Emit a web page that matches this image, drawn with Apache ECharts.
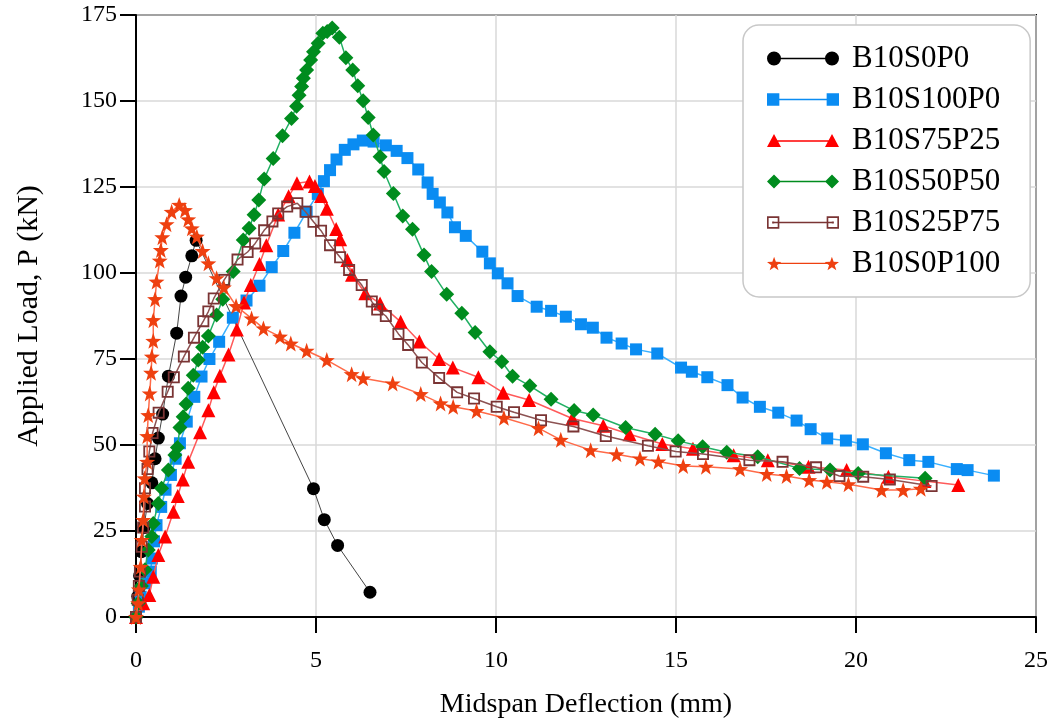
<!DOCTYPE html>
<html>
<head>
<meta charset="utf-8">
<title>Load-deflection</title>
<script src="https://cdn.jsdelivr.net/npm/echarts@6/dist/echarts.min.js"></script>
<style>
  html, body { margin: 0; padding: 0; background: #fff; }
  #chart { width: 1062px; height: 722px; }
</style>
</head>
<body>
<div id="chart"></div>
<script>
// series names (legend order)
var seriesNames = ['B10S0P0', 'B10S100P0', 'B10S75P25', 'B10S50P50', 'B10S25P75', 'B10S0P100'];

// [midspan deflection (mm), applied load (kN)]
var b10s0p0 = [[0,0],[0.05,6],[0.1,12],[0.15,19],[0.22,26],[0.32,33],[0.44,39],[0.53,46],[0.62,52],[0.74,59],
  [0.9,70],[1.13,82.5],[1.25,93.3],[1.38,98.8],[1.55,105],[1.67,109.5],[4.93,37.3],[5.23,28.3],[5.6,20.8],[6.5,7.2]];

var b10s100p0 = [[0,0],[0.08,3],[0.13,5.9],[0.25,9.8],[0.41,13.2],[0.44,17],[0.5,22],[0.57,26.7],[0.7,32],[0.82,37],
  [0.97,41.3],[1.1,46],[1.22,50.5],[1.41,56.8],[1.62,64],[1.82,69.9],[2.04,75],[2.31,80],[2.69,87],[3.07,92],
  [3.43,96.3],[3.77,101.7],[4.09,106.4],[4.4,111.7],[4.74,117.8],[5.05,123],[5.22,126.7],[5.39,129.9],[5.57,133],[5.8,135.8],
  [6.04,137.4],[6.3,138.5],[6.6,138.2],[6.94,137.1],[7.24,135.5],[7.54,133.4],[7.84,130.1],[8.1,126.3],[8.24,123],[8.44,120.5],
  [8.65,117.6],[8.86,113.3],[9.16,110.8],[9.62,106.2],[9.83,102.8],[10.05,99.9],[10.32,97],[10.6,93.3],[11.13,90.2],[11.53,89],
  [11.94,87.3],[12.36,85.1],[12.69,84.1],[13.07,81.2],[13.49,79.5],[13.89,77.8],[14.48,76.6],[15.14,72.5],[15.44,71.3],[15.87,69.7],
  [16.43,67.4],[16.85,63.8],[17.33,61.1],[17.84,59.4],[18.35,57.1],[18.74,54.6],[19.2,51.9],[19.72,51.3],[20.19,50.2],[20.83,47.6],
  [21.48,45.6],[22.01,45.1],[22.8,43],[23.1,42.7],[23.83,41.1]];

var b10s75p25 = [[0,0],[0.2,4],[0.37,6.4],[0.48,11.7],[0.62,18],[0.81,23.4],[1.04,30.6],[1.16,35.2],[1.3,40],[1.45,45.1],
  [1.78,53.7],[2.01,60.1],[2.16,65.3],[2.33,70.1],[2.57,76.3],[2.8,83.6],[3.0,91.4],[3.19,96.5],[3.43,102.6],[3.62,108.1],
  [3.95,117],[4.24,122.3],[4.47,126.1],[4.82,126.6],[4.97,125.3],[5.14,122.4],[5.3,118.7],[5.56,112.8],[5.67,109.8],[5.87,103.8],
  [6.0,99.5],[6.37,94.1],[6.78,91.1],[7.35,85.8],[7.87,80.1],[8.42,75],[8.8,72.5],[9.51,69.7],[10.2,65.2],[10.92,63.1],
  [12.12,57.7],[12.98,55.6],[13.71,53.1],[14.62,50.3],[15.47,48.9],[16.6,47],[17.55,45.6],[18.68,43.7],[19.74,42.7],[20.9,40.8],
  [21.9,39.5],[22.84,38.4]];

var b10s50p50 = [[0,0],[0.06,4],[0.15,9],[0.25,13.7],[0.34,19.5],[0.44,23.4],[0.48,27.2],[0.62,33],[0.71,37.4],[0.9,42.7],
  [1.08,47.1],[1.15,49.3],[1.22,55.1],[1.31,58.2],[1.39,61.9],[1.45,66.5],[1.59,70.3],[1.73,74.7],[1.85,78.4],[2.01,81.7],
  [2.24,87.8],[2.41,92.4],[2.7,100.4],[2.98,109.6],[3.14,113],[3.28,116.9],[3.41,121.2],[3.56,127.3],[3.81,133.3],[4.07,139.9],
  [4.32,144.9],[4.46,148.5],[4.53,151.7],[4.6,154.2],[4.65,156.6],[4.74,159],[4.85,161.9],[4.93,164.3],[5.06,166.8],[5.19,169.7],
  [5.31,170.2],[5.45,171.2],[5.65,168.5],[5.83,162.6],[6.02,159],[6.16,154.4],[6.31,150.1],[6.45,145.2],[6.59,140.1],[6.78,133.8],
  [6.89,129.5],[7.15,123.1],[7.41,116.6],[7.68,112.7],[8.0,105.2],[8.21,100.4],[8.63,93.8],[9.05,88.3],[9.42,82.7],[9.83,77.1],
  [10.16,74.2],[10.46,70],[10.94,67.2],[11.53,63.3],[12.17,60],[12.7,58.7],[13.6,55.1],[14.42,53.1],[15.06,51.2],[15.74,49.5],
  [16.41,47.9],[17.27,46.6],[18.43,43.2],[19.28,42.7],[20.06,41.7],[21.92,40.3]];

var b10s25p75 = [[0,0],[0.05,5],[0.08,9],[0.11,13.2],[0.16,20.4],[0.2,26],[0.25,32.1],[0.25,37.4],[0.32,43],[0.37,48.1],
  [0.46,53.5],[0.63,59.4],[0.88,65.5],[1.05,69.7],[1.33,75.7],[1.61,81.2],[1.87,86],[2.01,88.8],[2.16,92.6],[2.45,98],
  [2.82,103.9],[3.1,106.1],[3.31,108.6],[3.56,112.4],[3.79,115],[3.95,117.3],[4.2,119.3],[4.48,120.3],[4.71,117.8],[4.93,114.9],
  [5.14,112.3],[5.39,108.1],[5.67,104.6],[5.92,100.9],[6.27,96.5],[6.55,91.7],[6.7,89.4],[6.94,87.5],[7.29,82.3],[7.56,79.1],
  [7.94,74],[8.42,69.5],[8.92,65.3],[9.39,63.5],[10.02,61.1],[10.5,59.5],[11.25,57.2],[12.15,55.4],[13.05,52.6],[14.22,49.8],
  [14.99,48.1],[15.75,47.4],[17.04,45.6],[17.96,45.1],[18.89,43.5],[19.54,41],[20.2,40.8],[20.94,40],[22.1,38.1]];

var b10s0p100 = [[0,0],[0.06,4],[0.08,8],[0.13,14.6],[0.16,22.4],[0.2,28.2],[0.22,35],[0.24,40.3],[0.31,45.1],[0.31,52.6],
  [0.34,58.7],[0.38,65],[0.42,71],[0.44,75.7],[0.48,80.3],[0.48,86.3],[0.53,92.4],[0.57,97.5],[0.66,103.6],[0.69,106.7],
  [0.73,110.4],[0.85,114.2],[0.99,117.8],[1.2,119.8],[1.36,118.3],[1.45,115.6],[1.55,113],[1.69,110.6],[1.85,106.4],[2.01,102.8],
  [2.24,98.5],[2.44,95.8],[2.78,90.4],[3.21,86.8],[3.54,83.9],[4.0,81.5],[4.3,79.5],[4.74,77.4],[5.3,74.7],[5.99,70.6],
  [6.31,69.4],[7.13,67.9],[7.91,64.8],[8.46,62.1],[8.81,61.1],[9.46,59.9],[10.22,57.9],[11.18,54.9],[11.8,51.5],[12.63,48.5],
  [13.35,47.3],[14.0,46.1],[14.51,45.2],[15.2,43.9],[15.83,43.7],[16.78,43],[17.52,41.6],[18.07,41],[18.7,39.8],[19.19,39.3],
  [19.79,38.6],[20.71,36.9],[21.31,36.9],[21.8,37.3]];

// axis ranges
var xMax = 25, xStep = 5;
var yMax = 175, yStep = 25;

var serif = 'Liberation Serif';

// marker shapes
function starPath(cx, cy, R, r) {
  var s = '';
  for (var k = 0; k < 10; k++) {
    var a = -Math.PI / 2 + k * Math.PI / 5;
    var rad = k % 2 ? r : R;
    s += (k ? 'L' : 'M') + (cx + rad * Math.cos(a)).toFixed(2) + ' ' + (cy + rad * Math.sin(a)).toFixed(2);
  }
  return s + 'Z';
}
function ringPath(cx, cy, h, t) {
  // outer square clockwise, inner square the other way -> hole
  return 'M' + (cx - h) + ' ' + (cy - h) + 'H' + (cx + h) + 'V' + (cy + h) + 'H' + (cx - h) + 'Z' +
    'M' + (cx - h + t) + ' ' + (cy - h + t) + 'V' + (cy + h - t) + 'H' + (cx + h - t) + 'V' + (cy - h + t) + 'Z';
}
var starSymbol = 'path://' + starPath(10, 10, 10, 4);
var ringSymbol = 'path://' + ringPath(6, 6, 6, 1.8);

// legend icons: marker - line - marker, in a 72 x 14 box
function legendIcon(kind) {
  var p = 'M7 6.3H65V7.7H7Z';
  [7, 65].forEach(function (cx) {
    if (kind === 'circle') p += 'M' + (cx - 7) + ' 7A7 7 0 1 1 ' + (cx + 7) + ' 7A7 7 0 1 1 ' + (cx - 7) + ' 7Z';
    else if (kind === 'rect') p += 'M' + (cx - 6) + ' 1H' + (cx + 6) + 'V13H' + (cx - 6) + 'Z';
    else if (kind === 'triangle') p += 'M' + cx + ' 0L' + (cx + 7) + ' 13H' + (cx - 7) + 'Z';
    else if (kind === 'diamond') p += 'M' + cx + ' 0L' + (cx + 7) + ' 7L' + cx + ' 14L' + (cx - 7) + ' 7Z';
    else if (kind === 'ring') p += ringPath(cx, 7, 6, 1.6) + 'M' + (cx - 1) + ' 6H' + (cx + 1) + 'V8H' + (cx - 1) + 'Z';
    else if (kind === 'star') p += starPath(cx, 7.8, 7.5, 3);
  });
  return 'path://' + p;
}

var styles = [
  { data: b10s0p0,   symbol: 'circle',   size: 13, color: '#000000', line: '#444444', lw: 1,   icon: 'circle' },
  { data: b10s100p0, symbol: 'rect',     size: 12, color: '#0a8cf2', line: '#39b0ff', lw: 1.5, icon: 'rect' },
  { data: b10s75p25, symbol: 'triangle', size: 14, color: '#ff0000', line: '#ff5a5a', lw: 1.5, icon: 'triangle' },
  { data: b10s50p50, symbol: 'diamond',  size: 15, color: '#008c1e', line: '#22b064', lw: 1.5, icon: 'diamond' },
  { data: b10s25p75, symbol: ringSymbol, size: 12, color: '#7a3434', line: '#8c5252', lw: 1.5, icon: 'ring' },
  { data: b10s0p100, symbol: starSymbol, size: 16, color: '#ee4010', line: '#ff6a48', lw: 1.5, icon: 'star' }
];

var series = styles.map(function (s, i) {
  return {
    name: seriesNames[i],
    type: 'line',
    data: s.data,
    symbol: s.symbol,
    symbolSize: s.size,
    showAllSymbol: true,
    itemStyle: { color: s.color, borderWidth: 0 },
    lineStyle: { color: s.line, width: s.lw },
    emphasis: { disabled: true },
    z: 2 + i
  };
});

var chart = echarts.init(document.getElementById('chart'));
chart.setOption({
  animation: false,
  backgroundColor: '#fff',
  grid: {
    left: 136, right: 26, top: 15, bottom: 105, outerBoundsMode: 'none',
    show: true, borderColor: '#000', borderWidth: 2, backgroundColor: 'transparent'
  },
  legend: {
    orient: 'vertical',
    left: 743, top: 25,
    padding: [18, 30, 18, 24],
    itemWidth: 72, itemHeight: 14, itemGap: 10,
    backgroundColor: '#fff',
    borderColor: '#c8c8c8', borderWidth: 1.5, borderRadius: 16,
    textStyle: { fontFamily: serif, fontSize: 31, color: '#000', lineHeight: 30, padding: [0, 0, 0, 8] },
    data: styles.map(function (s, i) {
      return { name: seriesNames[i], icon: legendIcon(s.icon), itemStyle: { color: s.color, borderWidth: 0 } };
    })
  },
  xAxis: {
    type: 'value', min: 0, max: xMax, interval: xStep,
    name: 'Midspan Deflection (mm)', nameLocation: 'middle', nameGap: 74,
    nameTextStyle: { fontFamily: serif, fontSize: 28, color: '#000' },
    axisLine: { lineStyle: { color: '#000', width: 2 } },
    axisTick: { length: 16, lineStyle: { color: '#000', width: 2 } },
    axisLabel: { fontFamily: serif, fontSize: 24, color: '#000', margin: 32 },
    splitLine: { lineStyle: { color: '#d9d9d9', width: 1.5 } }
  },
  yAxis: {
    type: 'value', min: 0, max: yMax, interval: yStep,
    name: 'Applied Load, P (kN)', nameLocation: 'middle', nameGap: 92,
    nameTextStyle: { fontFamily: serif, fontSize: 30, color: '#000' },
    axisLine: { lineStyle: { color: '#000', width: 2 } },
    axisTick: { length: 16, lineStyle: { color: '#000', width: 2 } },
    axisLabel: { fontFamily: serif, fontSize: 24, color: '#000', margin: 19 },
    splitLine: { lineStyle: { color: '#d9d9d9', width: 1.5 } }
  },
  series: series
});
</script>
</body>
</html>
